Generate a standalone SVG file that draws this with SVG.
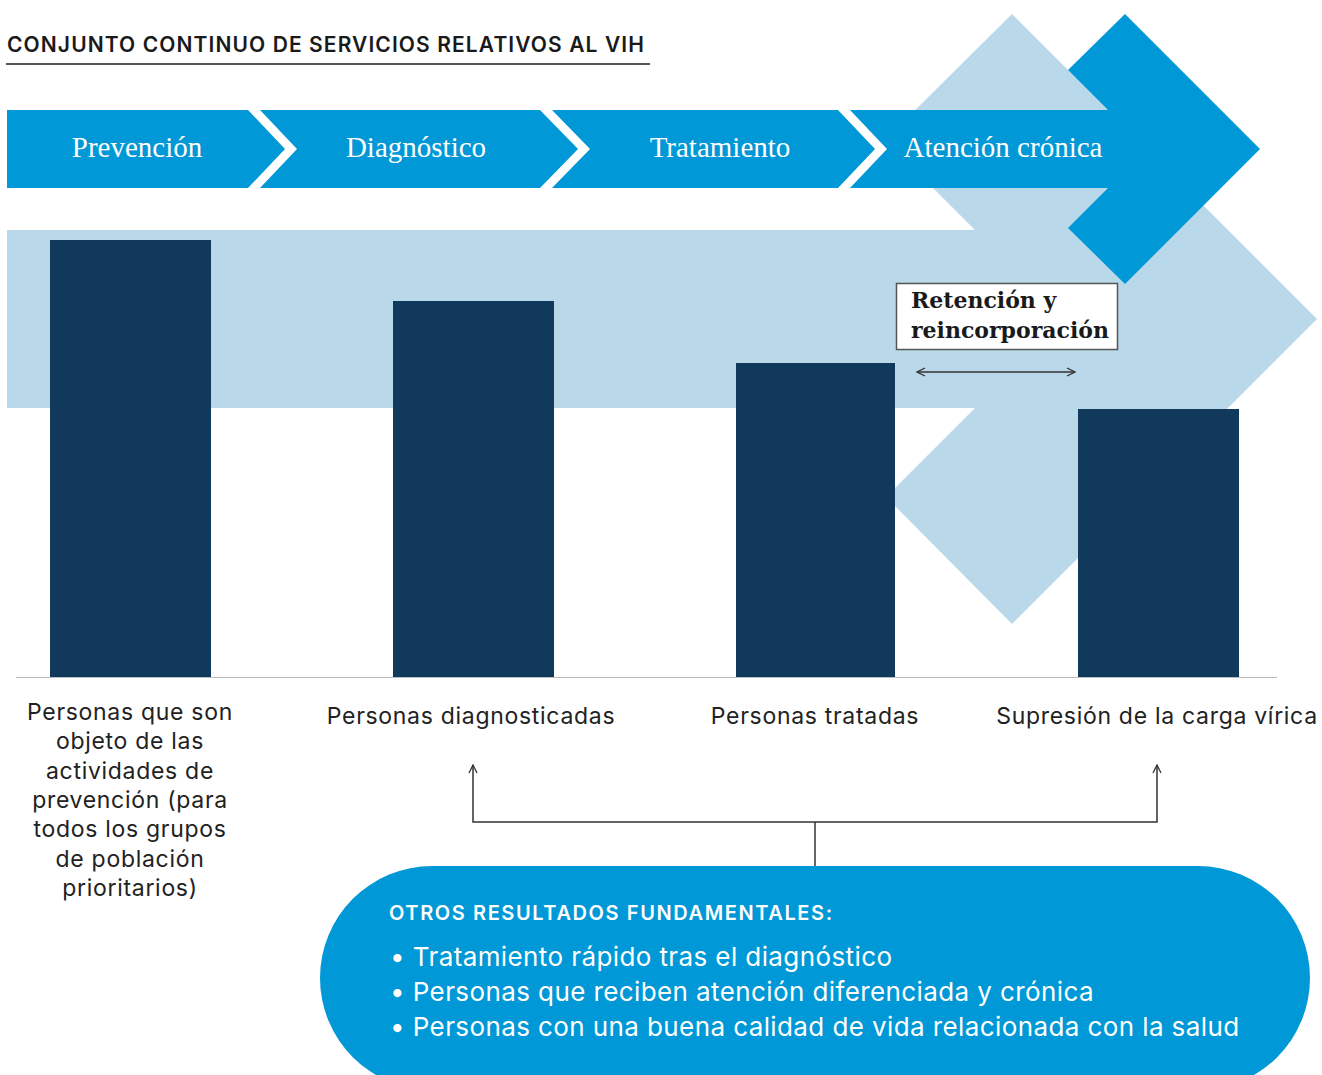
<svg xmlns="http://www.w3.org/2000/svg" width="1322" height="1075" viewBox="0 0 1322 1075">
<defs>
<style>
.title{font-family:Inter,"Noto Sans",sans-serif;font-weight:600;font-size:21px;letter-spacing:1.1px;fill:#1a1a1a;}
.chev{fill:#0098D6;}
.chevtxt{font-family:"Liberation Serif",serif;font-size:29px;fill:#ffffff;text-anchor:middle;}
.bar{fill:#11395C;}
.lbl{font-family:Inter,"Noto Sans",sans-serif;font-size:23px;letter-spacing:0.7px;fill:#222;text-anchor:middle;}
.conn{fill:none;stroke:#333;stroke-width:1.5;}
.ret{font-family:"DejaVu Serif",serif;font-weight:bold;font-size:22px;fill:#1a1a1a;}
.pillh{font-family:Inter,"Noto Sans",sans-serif;font-weight:600;font-size:20px;letter-spacing:1.6px;fill:#fff;}
.pillt{font-family:Inter,"Noto Sans",sans-serif;font-size:26px;letter-spacing:0.4px;fill:#fff;}
</style>
<marker id="ah" viewBox="0 0 10 10" refX="9" refY="5" markerWidth="10" markerHeight="10" markerUnits="userSpaceOnUse" orient="auto-start-reverse">
<path d="M1,1 L9,5 L1,9" fill="none" stroke="#333" stroke-width="1.3"/>
</marker>
</defs>
<rect width="1322" height="1075" fill="#fff"/>
<g id="title">
<text class="title" x="7" y="52">CONJUNTO CONTINUO DE SERVICIOS RELATIVOS AL VIH</text>
<line x1="6" y1="64" x2="650" y2="64" stroke="#555" stroke-width="2"/>
</g>
<g id="background-arrow">
<polygon fill="#B9D8EA" points="7,230 975,230 885,140 1012,14 1317,319 1012,624 886,497 975,408 7,408"/>
</g>
<g id="stages">
<g id="stage-prevencion">
<polygon class="chev" points="7,110 248,110 285,149 248,188 7,188"/>
<text class="chevtxt" x="137" y="157">Prevención</text>
</g>
<g id="stage-diagnostico">
<polygon class="chev" points="260,110 540,110 578,149 540,188 260,188 297,149"/>
<text class="chevtxt" x="416" y="157">Diagnóstico</text>
</g>
<g id="stage-tratamiento">
<polygon class="chev" points="552,110 838,110 875,149 838,188 552,188 590,149"/>
<text class="chevtxt" x="720" y="157">Tratamiento</text>
</g>
<g id="stage-atencion">
<polygon class="chev" points="850,110 1108,110 1068,70 1125,14 1260,149 1125,284 1068,228 1108,188 850,188 887,149"/>
<text class="chevtxt" x="1003" y="157">Atención crónica</text>
</g>
</g>
<line x1="16" y1="677.5" x2="1277" y2="677.5" stroke="#bbb" stroke-width="1"/>
<g id="bar-prevencion">
<rect class="bar" x="50" y="240" width="161" height="437"/>
<text class="lbl" x="130" y="720">Personas que son</text>
<text class="lbl" x="130" y="749">objeto de las</text>
<text class="lbl" x="130" y="779">actividades de</text>
<text class="lbl" x="130" y="808">prevención (para</text>
<text class="lbl" x="130" y="837">todos los grupos</text>
<text class="lbl" x="130" y="867">de población</text>
<text class="lbl" x="130" y="896">prioritarios)</text>
</g>
<g id="bar-diagnosticadas">
<rect class="bar" x="393" y="301" width="161" height="376"/>
<text class="lbl" x="471" y="724">Personas diagnosticadas</text>
</g>
<g id="bar-tratadas">
<rect class="bar" x="736" y="363" width="159" height="314"/>
<text class="lbl" x="815" y="724">Personas tratadas</text>
</g>
<g id="bar-supresion">
<rect class="bar" x="1078" y="409" width="161" height="268"/>
<text class="lbl" x="1157" y="724">Supresión de la carga vírica</text>
</g>
<g id="retencion">
<rect x="896.5" y="283.5" width="221" height="66" fill="#fff" stroke="#555" stroke-width="1.5"/>
<text class="ret" x="911" y="308">Retención y</text>
<text class="ret" x="911" y="338">reincorporación</text>
</g>
<g id="connectors">
<line class="conn" x1="917" y1="372" x2="1075" y2="372" marker-start="url(#ah)" marker-end="url(#ah)"/>
<polyline class="conn" points="473,765 473,822 1157,822 1157,765" marker-start="url(#ah)" marker-end="url(#ah)"/>
<line class="conn" x1="815" y1="822" x2="815" y2="866"/>
</g>
<g id="otros-resultados">
<rect x="320" y="866" width="990" height="224" rx="112" ry="112" fill="#0098D6"/>
<text class="pillh" x="389" y="920">OTROS RESULTADOS FUNDAMENTALES:</text>
<text class="pillt" x="390" y="966">• Tratamiento rápido tras el diagnóstico</text>
<text class="pillt" x="390" y="1001">• Personas que reciben atención diferenciada y crónica</text>
<text class="pillt" x="390" y="1036">• Personas con una buena calidad de vida relacionada con la salud</text>
</g>
</svg>
